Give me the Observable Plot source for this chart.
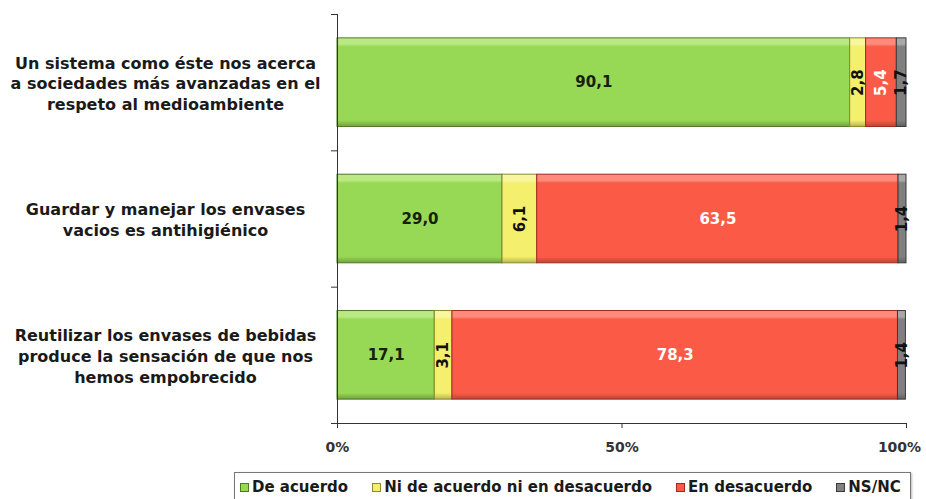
<!DOCTYPE html>
<html><head><meta charset="utf-8">
<script src="https://cdn.jsdelivr.net/npm/d3@7"></script>
<script src="https://cdn.jsdelivr.net/npm/@observablehq/plot@0.6"></script>
<style>
body{margin:0;background:#fff;font-family:"DejaVu Sans",Verdana,sans-serif;}
#wrap{position:relative;width:926px;height:499px;overflow:hidden;}
#legend{position:absolute;left:234px;top:472px;width:677px;height:34px;border:1px solid #777;box-sizing:border-box;
  display:flex;align-items:flex-start;padding-top:5px;padding-left:5px;gap:24px;font-weight:bold;font-size:15px;color:#1a1a1a;background:#fff;box-shadow:1px 1px 2px #bbb;}
#legend span.item{display:flex;align-items:center;white-space:nowrap;}
#legend i{display:inline-block;width:7px;height:7px;margin-right:3px;}
</style></head><body><div id="wrap"><div id="chart"></div><div id="legend"></div></div>
<script>
const categories = [
  "Un sistema como éste nos acerca\na sociedades más avanzadas en el\nrespeto al medioambiente",
  "Guardar y manejar los envases\nvacios es antihigiénico",
  "Reutilizar los envases de bebidas\nproduce la sensación de que nos\nhemos empobrecido"
];
const series = ["De acuerdo", "Ni de acuerdo ni en desacuerdo", "En desacuerdo", "NS/NC"];
const deAcuerdo = [90.1, 29.0, 17.1];
const niNi = [2.8, 6.1, 3.1];
const enDesacuerdo = [5.4, 63.5, 78.3];
const nsnc = [1.7, 1.4, 1.4];
const xTicks = [0, 50, 100];
const xTickLabels = ["0%", "50%", "100%"];

const colors = ["#97d855", "#f4ef6c", "#fb5b46", "#808080"];
const light = ["#b9e884", "#f9f6a0", "#fd8a7a", "#a8a8a8"];
const dark = ["#4e7a27", "#8d8a2c", "#9e2a1e", "#3a3a3a"];
const labelColors = ["#15210c", "#111", "#ffffff", "#111"];

const seriesValues = [deAcuerdo, niNi, enDesacuerdo, nsnc];
const rows = [];
categories.forEach((c, i) => {
  let acc = 0;
  seriesValues.forEach((vals, j) => {
    const v = vals[i];
    rows.push({i, j, series: series[j], value: v, x1: acc, x2: acc + v});
    acc += v;
  });
});
const fmt = v => d3.format(".1f")(v).replace(".", ",");
const boundaries = [-0.5, 0.5, 1.5, 2.5];
const half = 0.325;

const marks = [];
series.forEach((s, j) => {
  const data = rows.filter(r => r.j === j);
  marks.push(Plot.rectX(data, {x1: "x1", x2: "x2", y1: d => d.i - half, y2: d => d.i + half,
    fill: `url(#grad${j})`, stroke: dark[j], strokeWidth: 1}));
});
series.forEach((s, j) => {
  const data = rows.filter(r => r.j === j);
  marks.push(Plot.text(data.filter(d => d.value >= 10), {x: d => (d.x1 + d.x2) / 2, y: "i", text: d => fmt(d.value),
    fill: labelColors[j], fontSize: 15, fontWeight: "bold"}));
  marks.push(Plot.text(data.filter(d => d.value < 10), {x: d => (d.x1 + d.x2) / 2, y: "i", text: d => fmt(d.value),
    fill: labelColors[j], fontSize: 15, fontWeight: "bold", rotate: -90}));
});
marks.push(Plot.text(categories.map((c, i) => ({c, i})), {x: 0, y: "i", text: "c", textAnchor: "middle", dx: -172,
  fontSize: 16, fontWeight: "bold", lineHeight: 1.3, fill: "#1a1a1a"}));
marks.push(Plot.ruleX([0], {y1: -0.5, y2: 2.5, stroke: "#333"}));
marks.push(Plot.ruleY([2.5], {x1: 0, x2: 100, stroke: "#333"}));
marks.push(Plot.axisY({ticks: boundaries, tickFormat: () => "", tickSize: 6, stroke: "#333", label: null}));
marks.push(Plot.axisX({ticks: xTicks, tickFormat: () => "", tickSize: 5, stroke: "#333", label: null}));
const tickRows = xTicks.map((t, k) => ({t, label: xTickLabels[k]}));
marks.push(Plot.text(tickRows.slice(0, 2), {x: "t", y: 2.5, text: "label", dy: 24, fontSize: 14, fontWeight: "bold", fill: "#333"}));
marks.push(Plot.text(tickRows.slice(2), {x: "t", y: 2.5, text: "label", dy: 24, dx: -7, fontSize: 14, fontWeight: "bold", fill: "#333"}));

const chart = Plot.plot({
  width: 926, height: 466,
  marginTop: 14, marginBottom: 43, marginLeft: 337, marginRight: 20,
  style: {fontFamily: '"DejaVu Sans", Verdana, sans-serif', background: "#fff", overflow: "visible"},
  x: {domain: [0, 100], label: null},
  y: {domain: [-0.5, 2.5], reverse: true, label: null},
  marks
});
const svg = d3.select(chart);
const defs = svg.insert("defs", ":first-child");
colors.forEach((c, j) => {
  const g = defs.append("linearGradient").attr("id", `grad${j}`).attr("x1", 0).attr("y1", 0).attr("x2", 0).attr("y2", 1);
  g.append("stop").attr("offset", "0").attr("stop-color", light[j]);
  g.append("stop").attr("offset", "0.07").attr("stop-color", light[j]);
  g.append("stop").attr("offset", "0.1").attr("stop-color", c);
  g.append("stop").attr("offset", "0.93").attr("stop-color", c);
  g.append("stop").attr("offset", "1").attr("stop-color", d3.color(c).darker(0.8));
});
document.getElementById("chart").appendChild(chart);

const legend = d3.select("#legend");
series.forEach((s, j) => {
  const it = legend.append("span").attr("class", "item");
  it.append("i").style("background", colors[j]).style("border", `1px solid ${dark[j]}`);
  it.append("span").text(s);
});
</script></body></html>
